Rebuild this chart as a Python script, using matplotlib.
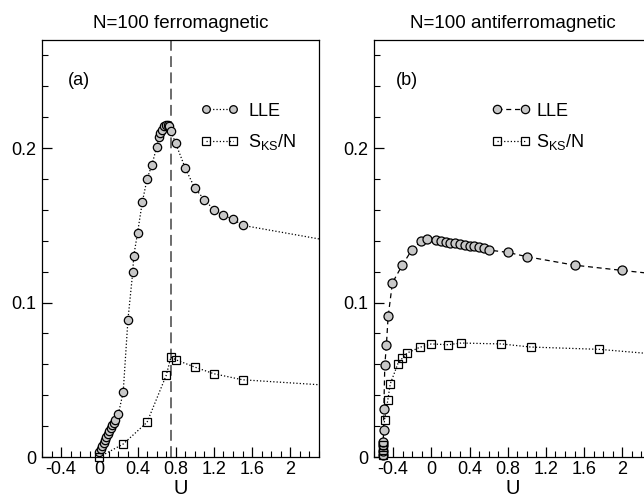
import matplotlib
matplotlib.use('Agg')
import matplotlib.pyplot as plt
from matplotlib.ticker import MultipleLocator
import numpy as np

plt.rcParams['font.family'] = ['Liberation Sans', 'DejaVu Sans']
plt.rcParams['mathtext.default'] = 'regular'

# ferromagnetic, N=100
ferro_lle_u = [0.00, 0.015, 0.03, 0.045, 0.06, 0.075, 0.09, 0.105, 0.12, 0.135, 0.15, 0.165,
               0.20, 0.25, 0.30, 0.35, 0.36, 0.40, 0.45, 0.50, 0.55, 0.60, 0.62, 0.64, 0.66,
               0.68, 0.70, 0.72, 0.73, 0.75, 0.80, 0.90, 1.0, 1.1, 1.2, 1.3, 1.4, 1.5, 2.5]
ferro_lle = [0.003, 0.005, 0.007, 0.009, 0.011, 0.013, 0.015, 0.017, 0.019, 0.0205, 0.022, 0.024,
             0.028, 0.042, 0.089, 0.1197, 0.130, 0.145, 0.165, 0.180, 0.189, 0.2005, 0.207, 0.210, 0.212,
             0.214, 0.215, 0.215, 0.214, 0.211, 0.203, 0.187, 0.174, 0.1667, 0.160, 0.1565, 0.154, 0.150, 0.139]
ferro_sks_u = [0.0, 0.25, 0.5, 0.7, 0.75, 0.8, 1.0, 1.2, 1.5, 2.5]
ferro_sks = [0.0, 0.0084, 0.0225, 0.0528, 0.0647, 0.063, 0.0582, 0.0539, 0.050, 0.046]
u_crit = 0.75

# antiferromagnetic, N=100
anti_lle_u = [-0.505, -0.505, -0.504, -0.503, -0.5, -0.497, -0.487, -0.47, -0.452, -0.407, -0.306,
              -0.205, -0.108, -0.05, 0.05, 0.1, 0.15, 0.2, 0.25, 0.3, 0.35, 0.4, 0.45, 0.5, 0.55,
              0.6, 0.8, 1.0, 1.5, 2.0, 2.5]
anti_lle = [0.001, 0.004, 0.0075, 0.010, 0.0175, 0.031, 0.0593, 0.0727, 0.091, 0.1128, 0.124,
            0.134, 0.1398, 0.1409, 0.1405, 0.1398, 0.1394, 0.1388, 0.1383, 0.1377, 0.1372, 0.1368, 0.1364, 0.1357, 0.1351,
            0.134, 0.1325, 0.1297, 0.1242, 0.1208, 0.1175]
anti_sks_u = [-0.505, -0.505, -0.505, -0.49, -0.456, -0.43, -0.35, -0.303, -0.254, -0.122, 0.0,
              0.174, 0.313, 0.734, 1.04, 1.76, 2.5]
anti_sks = [0.001, 0.0045, 0.0078, 0.024, 0.0366, 0.0473, 0.0604, 0.064, 0.0673, 0.071, 0.0732,
            0.0727, 0.0738, 0.0732, 0.0712, 0.0697, 0.0658]

XMIN, XMAX = -0.6, 2.3
YMIN, YMAX = 0.0, 0.27
GRAY = '#c8c8c8'


def draw_series(ax, u, v, ls, marker, face, ms, label):
    u = np.asarray(u)
    v = np.asarray(v)
    ax.plot(u, v, ls=ls, color='black', lw=0.9, zorder=2)
    inside = u <= XMAX
    ax.plot(u[inside], v[inside], ls='none', marker=marker, ms=ms, mfc=face,
            mec='black', mew=0.9, clip_on=False, zorder=3)
    # legend proxy
    ax.plot([], [], ls=ls, color='black', lw=0.9, marker=marker, ms=ms - 0.5, mfc=face,
            mec='black', mew=0.9, label=label)


def style_axes(ax):
    ax.set_xlim(XMIN, XMAX)
    ax.set_ylim(YMIN, YMAX)
    ax.xaxis.set_minor_locator(MultipleLocator(0.1))
    ax.yaxis.set_minor_locator(MultipleLocator(0.02))
    ax.set_xticks([-0.4, 0, 0.4, 0.8, 1.2, 1.6, 2])
    ax.set_xticklabels(['-0.4', '0', '0.4', '0.8', '1.2', '1.6', '2'])
    ax.set_yticks([0, 0.1, 0.2])
    ax.set_yticklabels(['0', '0.1', '0.2'])
    ax.tick_params(which='major', direction='in', length=7, width=0.9, labelsize=13, pad=4)
    ax.tick_params(axis='x', which='major', pad=3)
    ax.tick_params(which='minor', direction='in', length=4, width=0.8)
    ax.tick_params(top=False, right=False, which='both')
    for sp in ax.spines.values():
        sp.set_linewidth(0.9)
    ax.set_xlabel('U', fontsize=14.5, labelpad=0.5)


fig = plt.figure(figsize=(6.44, 5.01), dpi=100)
ax1 = fig.add_axes([42 / 644, 44 / 501, 277 / 644, 417 / 501])
ax2 = fig.add_axes([374 / 644, 44 / 501, 277 / 644, 417 / 501])

# (a) ferromagnetic
ax1.axvline(u_crit, color='#606060', ls=(0, (6, 3)), lw=1.3, zorder=1)
draw_series(ax1, ferro_lle_u, ferro_lle, ':', 'o', GRAY, 6, 'LLE')
draw_series(ax1, ferro_sks_u, ferro_sks, ':', 's', 'none', 6, r'S$_{KS}$/N')
style_axes(ax1)
ax1.set_title('N=100 ferromagnetic', fontsize=13.5, pad=9)
ax1.text(0.094, 0.904, '(a)', transform=ax1.transAxes, fontsize=13, va='center')
ax1.legend(loc='upper left', bbox_to_anchor=(0.5726, 0.85), frameon=False, numpoints=2,
           handlelength=2.1, handletextpad=0.53, labelspacing=0.7, borderpad=0,
           borderaxespad=0, fontsize=13)

# (b) antiferromagnetic
draw_series(ax2, anti_lle_u, anti_lle, (0, (4, 3)), 'o', GRAY, 6.5, 'LLE')
draw_series(ax2, anti_sks_u, anti_sks, ':', 's', 'none', 6, r'S$_{KS}$/N')
style_axes(ax2)
ax2.set_title('N=100 antiferromagnetic', fontsize=13.5, pad=9)
ax2.text(0.079, 0.904, '(b)', transform=ax2.transAxes, fontsize=13, va='center')
ax2.legend(loc='upper left', bbox_to_anchor=(0.4245, 0.85), frameon=False, numpoints=2,
           handlelength=2.16, handletextpad=0.31, labelspacing=0.7, borderpad=0,
           borderaxespad=0, fontsize=13)

fig.savefig('out.png', dpi=100)
